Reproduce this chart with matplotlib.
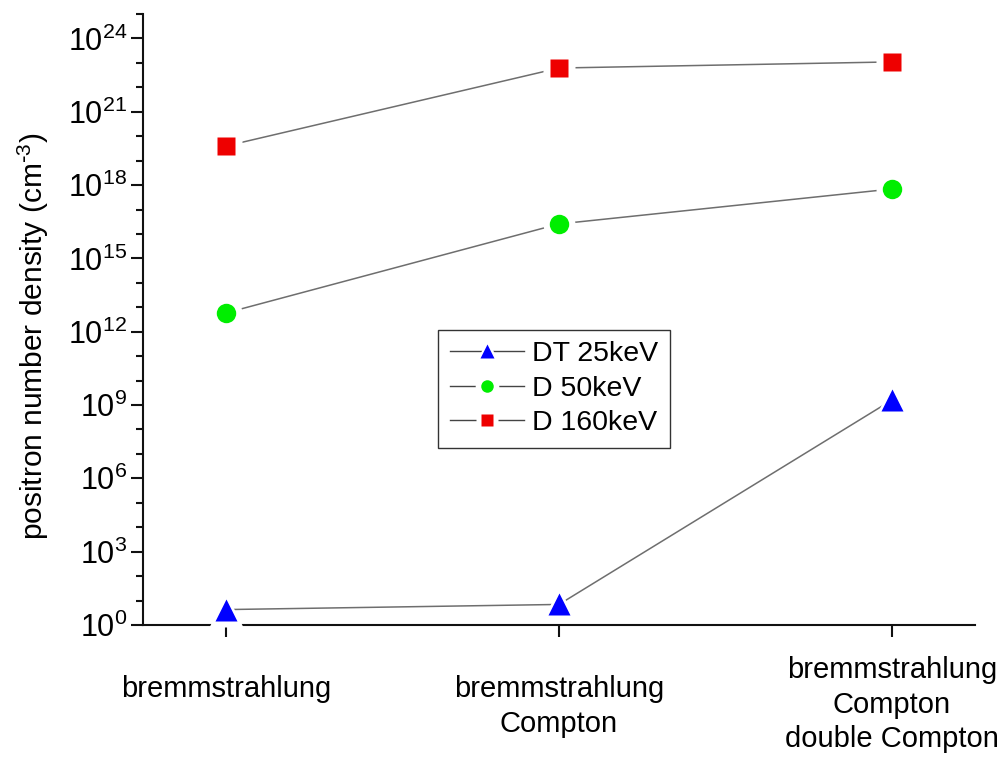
import numpy as np
import matplotlib
matplotlib.use("Agg")
import matplotlib.pyplot as plt
from matplotlib.lines import Line2D
from matplotlib.legend_handler import HandlerTuple
from matplotlib.ticker import FixedLocator, LogFormatterSciNotation, NullFormatter

plt.rcParams["font.family"] = ["Liberation Sans", "DejaVu Sans"]
plt.rcParams["mathtext.default"] = "regular"

categories = ["bremmstrahlung",
              "bremmstrahlung\nCompton",
              "bremmstrahlung\nCompton\ndouble Compton"]
series_names = ["DT 25keV", "D 50keV", "D 160keV"]
# log10 of positron number density (cm^-3)
dt25_log = [0.63, 0.84, 9.2]
d50_log = [12.77, 16.41, 17.84]
d160_log = [19.6, 22.79, 23.04]

colors = ["#0000ff", "#00ee00", "#ee0000"]
markers = ["^", "o", "s"]
msizes = [16, 14, 13.5]
leg_msizes = [10, 9, 8.5]
label_drop_px = [50, 50, 31]


def main():
    fig = plt.figure(figsize=(10, 7.58), dpi=100)
    ax = fig.add_axes([0.143, 0.1755, 0.832, 0.806])

    x = np.arange(len(categories))
    handles = []
    for vals, c, m, ms, lms in zip([dt25_log, d50_log, d160_log], colors,
                                   markers, msizes, leg_msizes):
        y = 10.0 ** np.array(vals)
        ax.plot(x, y, color="#6e6e6e", lw=1.1, zorder=2)
        ax.plot(x, y, ls="none", marker=m, ms=ms + 9, mfc="white",
                mec="none", zorder=3, clip_on=False)
        ax.plot(x, y, ls="none", marker=m, ms=ms, mfc=c, mec="none",
                zorder=4, clip_on=False)
        h_line = Line2D([], [], color="#444444", lw=1.0)
        h_gap = Line2D([], [], ls="none", marker=m, ms=lms + 8,
                       mfc="white", mec="none")
        h_mark = Line2D([], [], ls="none", marker=m, ms=lms, mfc=c, mec="none")
        handles.append((h_line, h_gap, h_mark))

    ax.set_yscale("log")
    ax.set_ylim(1, 1e25)
    ax.set_xlim(-0.25, 2.25)

    ax.yaxis.set_major_locator(FixedLocator(10.0 ** np.arange(0, 25, 3)))
    ax.yaxis.set_major_formatter(LogFormatterSciNotation())
    ax.yaxis.set_minor_locator(FixedLocator(
        [10.0 ** k for k in range(0, 26) if k % 3 != 0]))
    ax.yaxis.set_minor_formatter(NullFormatter())

    ax.set_xticks(x)
    ax.set_xticklabels([""] * len(categories))
    for i, (lab, drop) in enumerate(zip(categories, label_drop_px)):
        ax.annotate(lab, xy=(i, 0), xycoords=("data", "axes fraction"),
                    xytext=(0, -drop), textcoords="offset pixels",
                    ha="center", va="top", fontsize=21, linespacing=1.3)

    for side in ["top", "right"]:
        ax.spines[side].set_visible(False)
    for side in ["left", "bottom"]:
        ax.spines[side].set_linewidth(1.5)
        ax.spines[side].set_color("#111111")

    ax.tick_params(axis="both", which="major", direction="out", length=8.5,
                   width=1.5, color="#111111", labelsize=22, pad=3)
    ax.tick_params(axis="y", which="minor", direction="out", length=5,
                   width=1.5, color="#111111")

    ax.set_ylabel(r"positron number density (cm$^{\text{-}3}$)", fontsize=21.5)
    ax.yaxis.set_label_coords(-0.111, 0.472)

    leg = ax.legend(handles, series_names, loc="upper left",
                    bbox_to_anchor=(0.355, 0.483), borderaxespad=0,
                    fontsize=20.5,
                    handler_map={tuple: HandlerTuple(ndivide=1)},
                    handlelength=2.6, handletextpad=0.3, labelspacing=0.3,
                    borderpad=0.4, fancybox=False, framealpha=1,
                    edgecolor="#333333")
    leg.get_frame().set_linewidth(1.0)

    fig.savefig("out.png", dpi=100)


if __name__ == "__main__":
    main()
